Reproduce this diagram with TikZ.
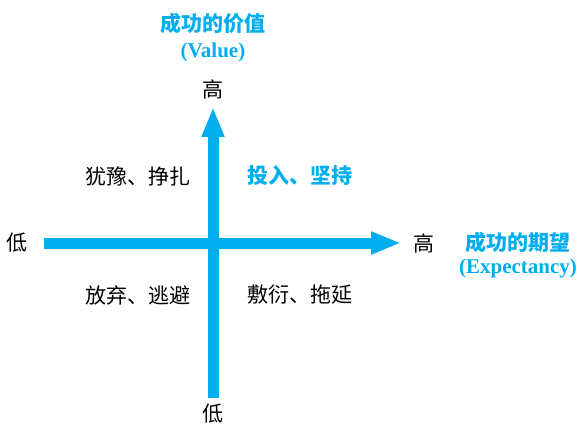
\documentclass[tikz,border=0pt]{standalone}
\usepackage{fontspec}
\setmainfont{Liberation Serif}
\newfontfamily\cjk{Noto Sans CJK SC}
\usetikzlibrary{arrows.meta}
\definecolor{axisblue}{RGB}{0,174,239}
\begin{document}
\begin{tikzpicture}[x=1pt,y=-1pt,
  axis/.style={draw=axisblue,line width=11pt,-{Triangle[length=30pt,width=21pt]}},
  lab/.style={font=\cjk\fontsize{21}{24}\selectfont,text=black,inner sep=0pt},
  title/.style={font=\cjk\bfseries\fontsize{21}{24}\selectfont,text=axisblue,inner sep=0pt},
  sub/.style={font=\bfseries\fontsize{21}{24}\selectfont,text=axisblue,inner sep=0pt}]
\useasboundingbox (0,0) rectangle (577,430);
% axes
\coordinate (hs) at (44,243);
\coordinate (he) at (401,243);
\coordinate (vs) at (213,398);
\coordinate (ve) at (213,107);
\draw[axis] (hs) -- (he);
\draw[axis] (vs) -- (ve);
% axis labels
\node[title] (vtitle) at (213,24) {成功的价值};
\node[sub] (vsub) at (213,52) {(Value)};
\node[lab] (vhigh) at (213,89) {高};
\node[lab] (vlow) at (213,414) {低};
\node[lab] (hlow) at (17,243) {低};
\node[lab] (hhigh) at (424,243) {高};
\node[title] (htitle) at (518,242) {成功的期望};
\node[sub] (hsub) at (518,268) {(Expectancy)};
% quadrants
\node[lab] (q2) at (137.5,176) {犹豫、挣扎};
\node[title] (q1) at (300,176) {投入、坚持};
\node[lab] (q3) at (137.5,295) {放弃、逃避};
\node[lab] (q4) at (300,295) {敷衍、拖延};
\end{tikzpicture}
\end{document}
